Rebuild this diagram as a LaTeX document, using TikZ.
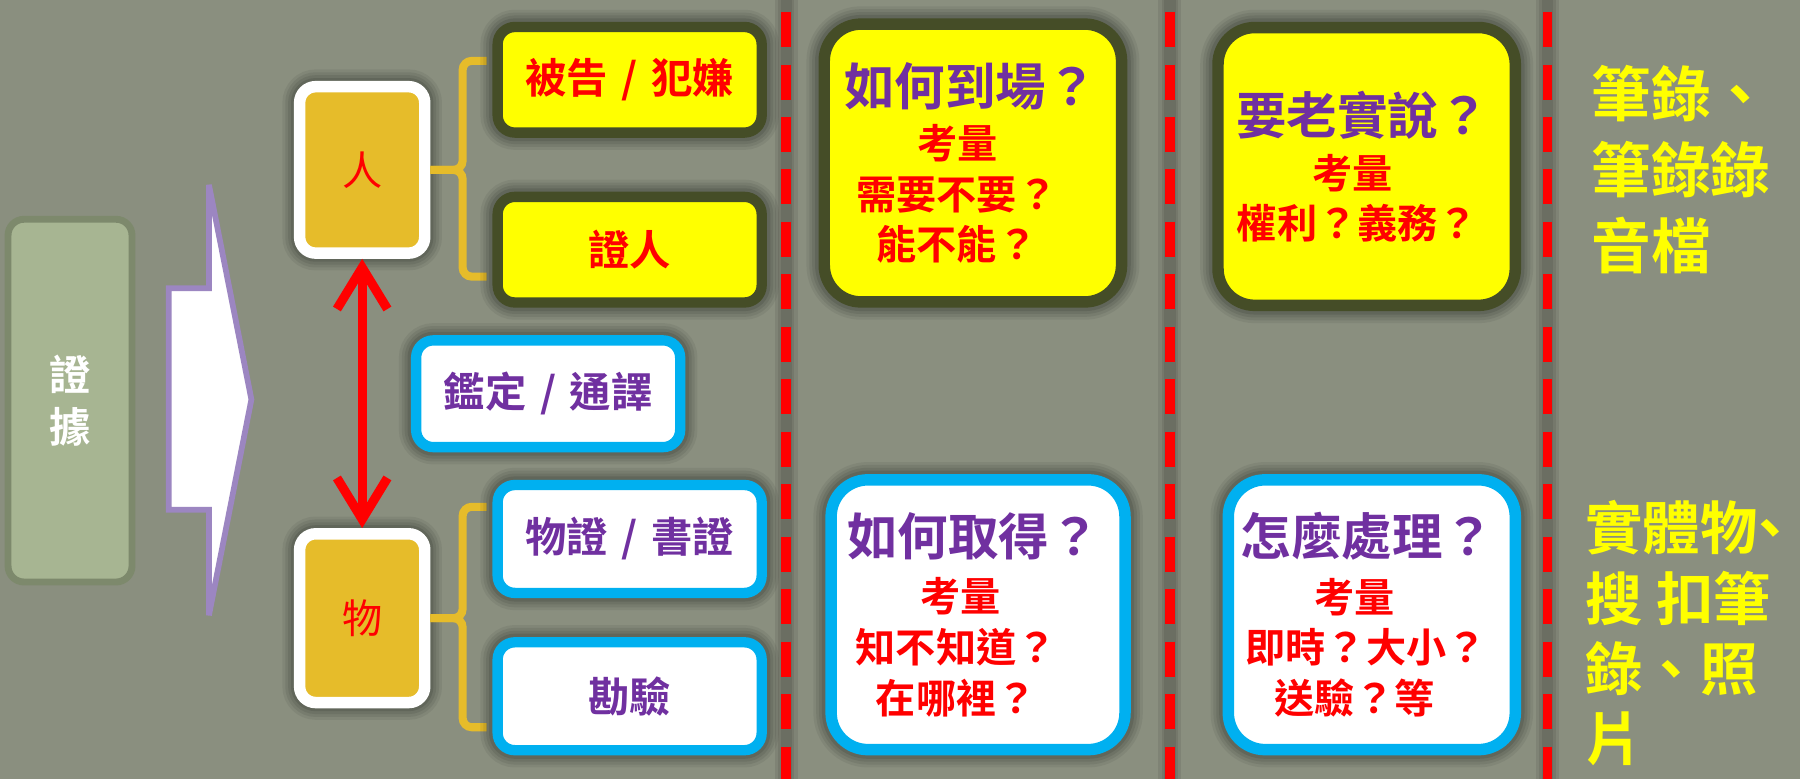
\documentclass[tikz,border=0pt]{standalone}
\usepackage{fontspec}
\setmainfont{Noto Sans CJK TC}[BoldFont={Noto Sans CJK TC Bold}]
\usetikzlibrary{arrows.meta}
\definecolor{bgc}{HTML}{8A8F7F}
\definecolor{greenfill}{HTML}{A7B592}
\definecolor{greenedge}{HTML}{7D896C}
\definecolor{goldc}{HTML}{E6BC2A}
\definecolor{olivec}{HTML}{454D27}
\definecolor{cyanc}{HTML}{00B0F0}
\definecolor{purpc}{HTML}{7030A0}
\definecolor{redc}{HTML}{FF0000}
\definecolor{yellowc}{HTML}{FFFF00}
\definecolor{arrowpurp}{HTML}{9C86C1}
\newcommand\boxtitle[1]{{\color{purpc}\fontsize{44}{44}\selectfont #1}}
\newcommand\slashsep{\kern0.33em/\kern0.33em}
\begin{document}
\begin{tikzpicture}[x=1pt,y=-1pt,
  halosmall/.style={preaction={draw=black,draw opacity=0.06,line width=30pt},
                    preaction={draw=black,draw opacity=0.07,line width=25pt},
                    preaction={draw=black,draw opacity=0.08,line width=20pt},
                    preaction={draw=black,draw opacity=0.10,line width=15pt}},
  halobig/.style={preaction={draw=black,draw opacity=0.06,line width=31pt},
                  preaction={draw=black,draw opacity=0.07,line width=26pt},
                  preaction={draw=black,draw opacity=0.08,line width=21pt},
                  preaction={draw=black,draw opacity=0.10,line width=16pt}},
  smallbox/.style={line width=9pt, rounded corners=15pt, halosmall, inner sep=0pt,
                   font=\bfseries\fontsize{36}{44}\selectfont, minimum width=230pt},
  ybox/.style={smallbox, draw=olivec, fill=yellowc, text=redc},
  cbox/.style={smallbox, draw=cyanc, fill=white, text=purpc},
  bigbox/.style={line width=10pt, rounded corners=32pt, halobig, inner sep=0pt, align=center,
                 font=\bfseries\fontsize{35}{44}\selectfont, text=redc},
  bigy/.style={bigbox, draw=olivec, fill=yellowc},
  bigc/.style={bigbox, draw=cyanc, fill=white},
  catbox/.style={draw=white, fill=goldc, line width=10pt, rounded corners=14pt, halosmall,
                 minimum width=109pt, inner sep=0pt, text=redc, font=\fontsize{35}{40}\selectfont},
  evbox/.style={draw=greenedge, fill=greenfill, line width=6pt, rounded corners=14pt,
                minimum width=108pt, minimum height=316pt, align=center, text=white,
                font=\bfseries\fontsize{36}{45}\selectfont},
  bracefig/.style={draw=goldc, line width=7pt, rounded corners=8pt},
  redarrow/.style={draw=redc, line width=8pt,
                   {Straight Barb[length=36pt,width=44pt]}-{Straight Barb[length=36pt,width=44pt]}},
  sepshadow/.style={draw=black, draw opacity=0.08, line width=#1},
  sepline/.style={draw=redc, line width=8.5pt, dash pattern=on 30.5pt off 15.2pt, dash phase=35.2pt},
  sidetext/.style={anchor=north west, inner sep=0pt, align=left, text=yellowc}
]
\fill[bgc] (0,0) rectangle (1568,679);
\useasboundingbox (0,0) rectangle (1568,679);

% separators
\foreach \sx/\nm in {685/sa,1019/sb,1348/sc}{
  \coordinate (\nm top) at (\sx,0);
  \coordinate (\nm bot) at (\sx,679);
  \draw[sepshadow=20pt] (\nm top) -- (\nm bot);
  \draw[sepshadow=14pt] (\nm top) -- (\nm bot);
  \draw[sepshadow=10pt] (\nm top) -- (\nm bot);
  \draw[sepline] (\nm top) -- (\nm bot);
}

% evidence box and block arrow
\node[evbox] (ev) at (61,349) {證\\據};
\filldraw[fill=white, draw=arrowpurp, line width=5pt, line join=miter, miter limit=4]
  (147,251) -- (182,251) -- (182,161) -- (219,348) -- (182,536) -- (182,444) -- (147,444) -- cycle;

% categories
\node[catbox, minimum height=145pt] (ren) at (315.5,148) {人};
\node[catbox, minimum height=147pt] (wu) at (315.5,538.5) {物};
\draw[redarrow] (ren.south) -- (wu.north);

% braces
\draw[bracefig] (ren.east) -- ++(28,0) -- ++(0,-95) -- ++(21,0);
\draw[bracefig] (ren.east) -- ++(28,0) -- ++(0,93) -- ++(21,0);
\draw[bracefig] (wu.east) -- ++(28,0) -- ++(0,-97) -- ++(21,0);
\draw[bracefig] (wu.east) -- ++(28,0) -- ++(0,95) -- ++(21,0);

% small boxes
\node[ybox, minimum height=92pt] (beigao) at (548.5,69.5) {被告\slashsep 犯嫌};
\node[ybox, minimum height=92pt] (zhengren) at (548.5,217.5) {證人};
\node[cbox, minimum height=93pt] (jianding) at (477.5,343) {鑑定\slashsep 通譯};
\node[cbox, minimum height=94pt] (wuzheng) at (548.5,469.5) {物證\slashsep 書證};
\node[cbox, minimum height=94pt] (kanyan) at (548.5,606.5) {勘驗};

% big boxes
\node[bigy, minimum width=259pt, minimum height=242pt] (q1) at (847.5,142)
  {\boxtitle{如何到場？}\kern4pt\\[2pt]考量\kern26pt\\需要不要？\kern28pt\\能不能？\kern28pt};
\node[bigy, minimum width=259pt, minimum height=242pt] (q2) at (1190.5,145)
  {\boxtitle{要老實說？}\kern7pt\\[3pt]考量\kern24pt\\權利？義務？\kern16pt};
\node[bigc, minimum width=256pt, minimum height=235pt] (q3) at (852,535.5)
  {\boxtitle{如何取得？}\kern8pt\\[5pt]考量\kern30pt\\知不知道？\kern38pt\\在哪裡？\kern38pt};
\node[bigc, minimum width=250pt, minimum height=235pt] (q4) at (1195,535.5)
  {\boxtitle{怎麼處理？}\kern8pt\\[5pt]考量\kern30pt\\即時？大小？\kern10pt\\送驗？等\kern30pt};

% side notes
\node[sidetext, font=\bfseries\fontsize{52}{66}\selectfont] (notea) at (1386,57) {筆錄、\\筆錄錄\\音檔};
\node[sidetext, font=\bfseries\fontsize{50}{61}\selectfont] (noteb) at (1381,436) {實體物\kern-14pt 、\\搜 扣筆\\錄、照\\片};
\end{tikzpicture}
\end{document}
